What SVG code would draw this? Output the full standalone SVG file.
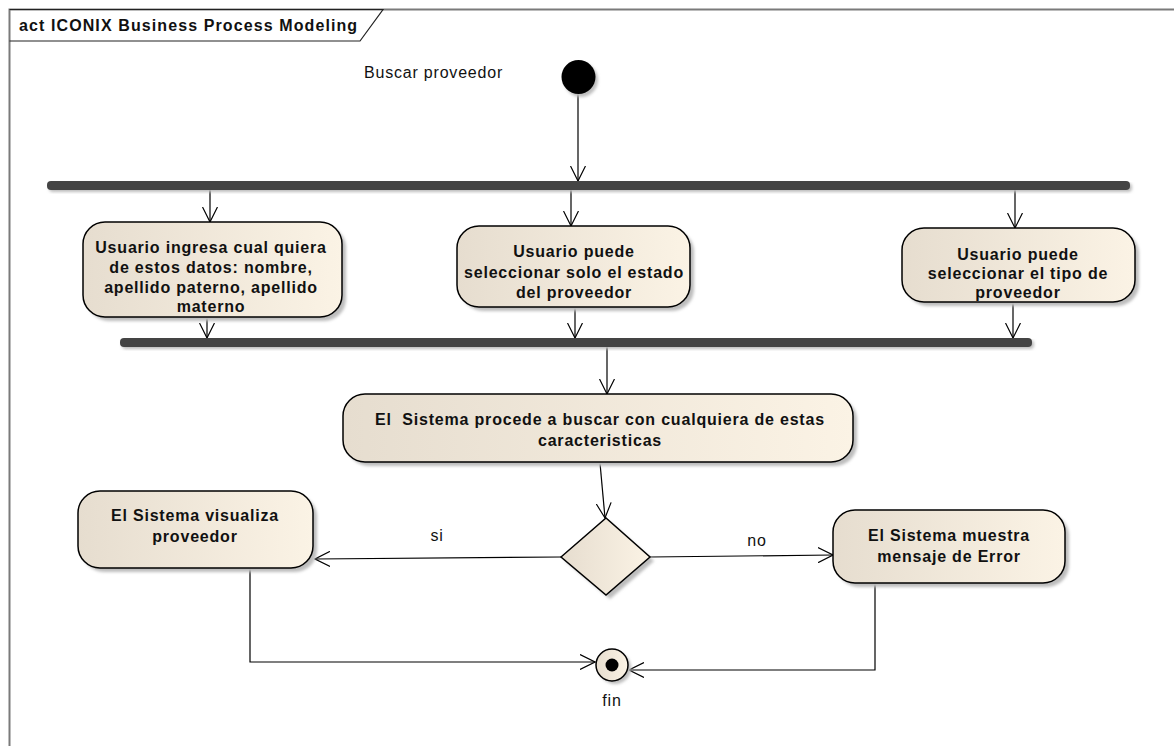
<svg xmlns="http://www.w3.org/2000/svg" width="1174" height="746" viewBox="0 0 1174 746">
<style>
.t{font-family:"Liberation Sans",Arial,sans-serif;font-size:16px;font-weight:bold;fill:#111;letter-spacing:0.8px;text-anchor:middle}
.l{font-family:"Liberation Sans",Arial,sans-serif;font-size:16px;fill:#111;letter-spacing:0.8px}
.act{fill:url(#g);stroke:#000;stroke-width:1.5}
.sh{fill:#bdbdbd;filter:url(#b)}
.bar{fill:#444}
.c{fill:none;stroke:#000;stroke-width:1.2}
</style>
<defs>
<linearGradient id="g" x1="0" y1="0" x2="1" y2="0">
<stop offset="0" stop-color="#e6ddcf"/>
<stop offset="1" stop-color="#fbf3e5"/>
</linearGradient>
<filter id="b" x="-10%" y="-10%" width="120%" height="130%"><feGaussianBlur stdDeviation="1.5"/></filter>
<marker id="a" viewBox="0 0 16 16" refX="15" refY="8" markerWidth="16" markerHeight="16" markerUnits="userSpaceOnUse" orient="auto">
<path d="M0,0.5 L15,8 L0,15.5" fill="none" stroke="#000" stroke-width="1.2"/>
</marker>
</defs>
<rect width="1174" height="746" fill="#fff"/>
<g id="frame">
<rect x="9.5" y="9.5" width="1200" height="800" fill="none" stroke="#7a7a7a" stroke-width="2"/>
<path d="M9.5,9.5 H383 L360,41 H9.5" fill="none" stroke="#222" stroke-width="1.2"/>
<text x="19" y="31" class="l" style="font-weight:bold;letter-spacing:1.1px">act ICONIX Business Process Modeling</text>
</g>
<g id="connectors">
<line x1="578" y1="94" x2="578" y2="181" class="c" marker-end="url(#a)"/>
<line x1="210" y1="190" x2="210" y2="222" class="c" marker-end="url(#a)"/>
<line x1="571" y1="190" x2="571" y2="226" class="c" marker-end="url(#a)"/>
<line x1="1015" y1="190" x2="1015" y2="228" class="c" marker-end="url(#a)"/>
<line x1="207" y1="317" x2="207" y2="338" class="c" marker-end="url(#a)"/>
<line x1="575" y1="307" x2="575" y2="338" class="c" marker-end="url(#a)"/>
<line x1="1013" y1="302" x2="1013" y2="338" class="c" marker-end="url(#a)"/>
<line x1="607" y1="347" x2="607" y2="394" class="c" marker-end="url(#a)"/>
<line x1="600" y1="463" x2="605" y2="518" class="c" marker-end="url(#a)"/>
<line x1="561" y1="557" x2="315" y2="559" class="c" marker-end="url(#a)"/>
<line x1="650" y1="557" x2="833" y2="555" class="c" marker-end="url(#a)"/>
<polyline points="250,568 250,662 595,662" class="c" marker-end="url(#a)"/>
<polyline points="875,583 875,670 629,670" class="c" marker-end="url(#a)"/>
<text x="437" y="541" class="l" text-anchor="middle">si</text>
<text x="757" y="546" class="l" text-anchor="middle">no</text>
</g>
<g id="start">
<circle cx="581" cy="80" r="17" class="sh"/>
<circle cx="578.5" cy="77" r="17" fill="#000"/>
<text x="364" y="78" class="l">Buscar proveedor</text>
</g>
<g id="fork">
<rect x="49" y="183" width="1083" height="9" rx="4" class="sh"/>
<rect x="47" y="181" width="1083" height="9" rx="4" class="bar"/>
</g>
<g id="join">
<rect x="122" y="340" width="912" height="9" rx="4" class="sh"/>
<rect x="120" y="338" width="912" height="9" rx="4" class="bar"/>
</g>
<g id="n1">
<rect x="87" y="226" width="259" height="95" rx="22" class="sh"/>
<rect x="83" y="222" width="259" height="95" rx="22" class="act"/>
<text class="t"><tspan x="211" y="253">Usuario ingresa cual quiera</tspan><tspan x="211" y="273">de estos datos: nombre,</tspan><tspan x="211" y="293">apellido paterno, apellido</tspan><tspan x="211" y="312">materno</tspan></text>
</g>
<g id="n2">
<rect x="461" y="230" width="233" height="81" rx="22" class="sh"/>
<rect x="457" y="226" width="233" height="81" rx="22" class="act"/>
<text class="t"><tspan x="574" y="257">Usuario puede</tspan><tspan x="574" y="278">seleccionar solo el estado</tspan><tspan x="574" y="298">del proveedor</tspan></text>
</g>
<g id="n3">
<rect x="906" y="232" width="233" height="74" rx="22" class="sh"/>
<rect x="902" y="228" width="233" height="74" rx="22" class="act"/>
<text class="t"><tspan x="1018" y="260">Usuario puede</tspan><tspan x="1018" y="279">seleccionar el tipo de</tspan><tspan x="1018" y="298">proveedor</tspan></text>
</g>
<g id="n4">
<rect x="347" y="398" width="510" height="68" rx="22" class="sh"/>
<rect x="343" y="394" width="510" height="68" rx="22" class="act"/>
<text class="t"><tspan x="600" y="425">El&#160; Sistema procede a buscar con cualquiera de estas</tspan><tspan x="600" y="446">caracteristicas</tspan></text>
</g>
<g id="decision">
<path d="M565,561 L610,522 L654,561 L610,599 Z" class="sh"/>
<path d="M561,557 L606,518 L650,557 L606,595 Z" fill="url(#g)" stroke="#000" stroke-width="1.5"/>
</g>
<g id="n5">
<rect x="837" y="514" width="232" height="73" rx="22" class="sh"/>
<rect x="833" y="510" width="232" height="73" rx="22" class="act"/>
<text class="t"><tspan x="949" y="541">El Sistema muestra</tspan><tspan x="949" y="562">mensaje de Error</tspan></text>
</g>
<g id="n6">
<rect x="82" y="495" width="235" height="77" rx="22" class="sh"/>
<rect x="78" y="491" width="235" height="77" rx="22" class="act"/>
<text class="t"><tspan x="195" y="521">El Sistema visualiza</tspan><tspan x="195" y="542">proveedor</tspan></text>
</g>
<g id="end">
<circle cx="615" cy="668" r="16" class="sh"/>
<circle cx="612" cy="665" r="16" fill="url(#g)" stroke="#000" stroke-width="1.5"/>
<circle cx="612" cy="665" r="6.5" fill="#000"/>
<text x="612" y="706" class="l" text-anchor="middle">fin</text>
</g>
</svg>
